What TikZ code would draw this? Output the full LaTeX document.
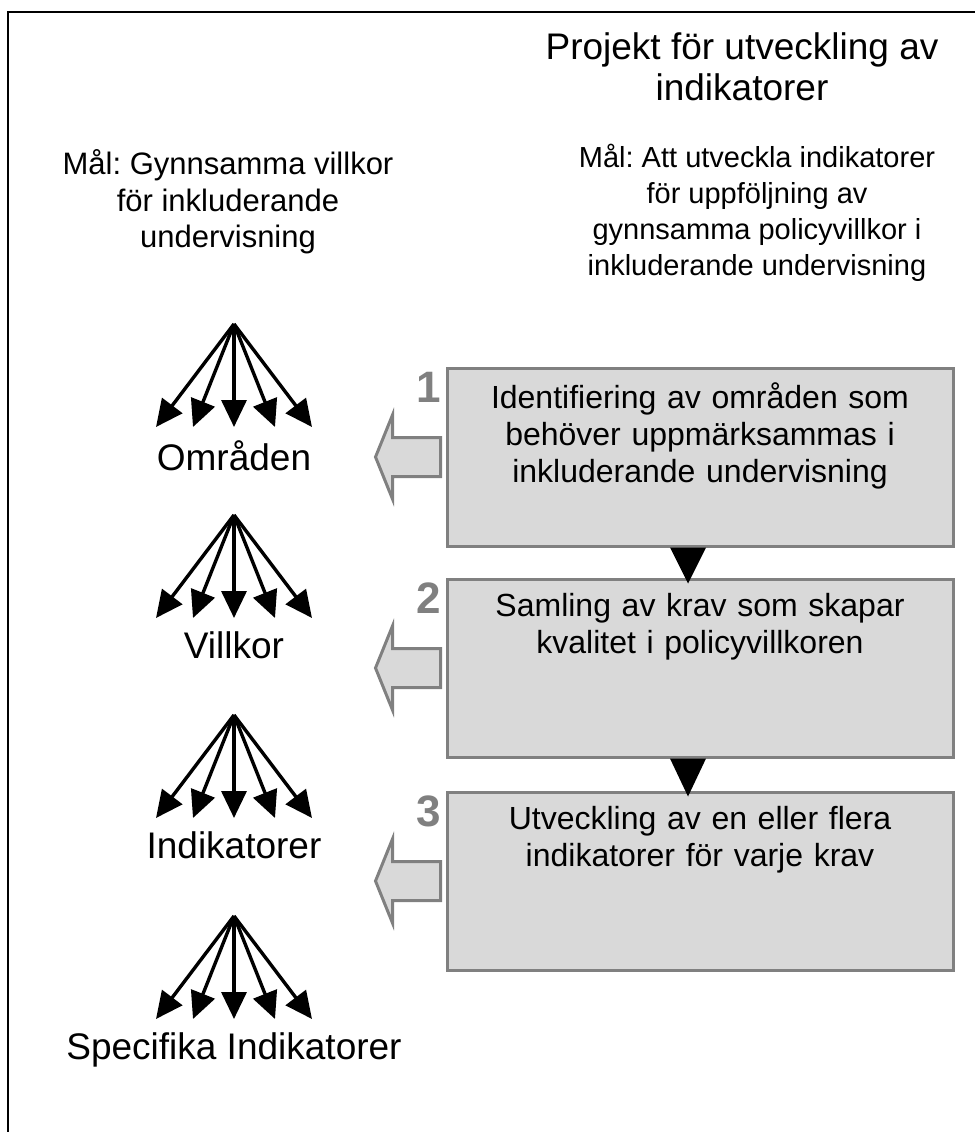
\documentclass[tikz,border=0pt]{standalone}
\usepackage{fontspec}
\setmainfont{Liberation Sans}
\frenchspacing
\usetikzlibrary{arrows.meta,positioning}
\definecolor{boxgray}{HTML}{D9D9D9}
\definecolor{linegray}{HTML}{808080}
\tikzset
{
    stepbox/.style   = {rectangle, draw=linegray, fill=boxgray, line width=3pt, minimum width=506pt, minimum height=178pt, inner sep=0pt},
    steptext/.style  = {align=center, text width=490pt, inner sep=0pt, font=\fontsize{32}{37}\selectfont},
    stepnum/.style   = {text=linegray, inner sep=0pt, font=\bfseries\fontsize{44}{44}\selectfont},
    goaltext/.style  = {align=center, inner sep=0pt, font=\fontsize{29}{36}\selectfont},
    titletext/.style = {align=center, inner sep=0pt, font=\fontsize{37}{41}\selectfont},
    fanlabel/.style  = {inner sep=0pt, font=\fontsize{37}{41}\selectfont},
    fanarrow/.style  = {-{Triangle[length=27pt,width=25pt]}, line width=3.4pt},
    sidearrow/.style = {draw=linegray, fill=boxgray, line width=3pt, line join=miter},
    leftarrow/.pic   = {\draw[sidearrow] (0,-19.5) -- (-48,-19.5) -- (-48,-42) -- (-65,0) -- (-48,42) -- (-48,19.5) -- (0,19.5) -- cycle;}
}
\begin{document}
\begin{tikzpicture}[x=1pt, y=-1pt]
    \useasboundingbox (0,0) rectangle (975,1132);
    \draw[line width=1.5pt] (8,1132) -- (8,12) -- (975,12);

    \node[titletext] (title) at (742,67) {Projekt för utveckling av\\indikatorer};
    \node[goaltext] (goalright) at (757,213) {Mål: Att utveckla indikatorer\\för uppföljning av\\gynnsamma policyvillkor i\\inkluderande undervisning};
    \node[goaltext, font=\fontsize{31}{36.5}\selectfont] (goalleft) at (228,202) {Mål: Gynnsamma villkor\\för inkluderande\\undervisning};

    \node[stepbox] (step1) at (700,457) {};
    \node[stepbox] (step2) at (700,668) {};
    \node[stepbox] (step3) at (700,881) {};

    \node[steptext, below=16pt of step1.north] (text1) {Identifiering av områden som\\behöver uppmärksammas i\\inkluderande undervisning};
    \node[steptext, below=16pt of step2.north] (text2) {Samling av krav som skapar\\kvalitet i policyvillkoren};
    \node[steptext, below=16pt of step3.north] (text3) {Utveckling av en eller flera\\indikatorer för varje krav};

    \foreach \k in {1,2,3}
    {
        \node[stepnum] (num\k) at ([xshift=-17pt,yshift=-21pt]step\k.north west) {\k};
        \pic at ([xshift=-5pt]step\k.west) {leftarrow};
    }

    \fill ([xshift=-30pt]step1.south) -- ([xshift=6pt]step1.south) -- ([xshift=-12pt,yshift=-36pt]step1.south) -- cycle;
    \fill ([xshift=-30pt]step2.south) -- ([xshift=6pt]step2.south) -- ([xshift=-12pt,yshift=-38pt]step2.south) -- cycle;

    \foreach \ay/\fanname [count=\k] in {324/Områden, 515/Villkor, 715/Indikatorer, 916/Specifika Indikatorer}
    {
        \coordinate (fan\k) at (234,\ay);
        \foreach \dx [count=\j] in {-78,-41,0,41,78}
        {
            \coordinate (fan\k-\j) at (234+\dx,\ay+103);
            \draw[fanarrow] (fan\k) -- (fan\k-\j);
        }
        \node[fanlabel, below=13pt of fan\k-3] (label\k) {\fanname};
    }
\end{tikzpicture}
\end{document}
